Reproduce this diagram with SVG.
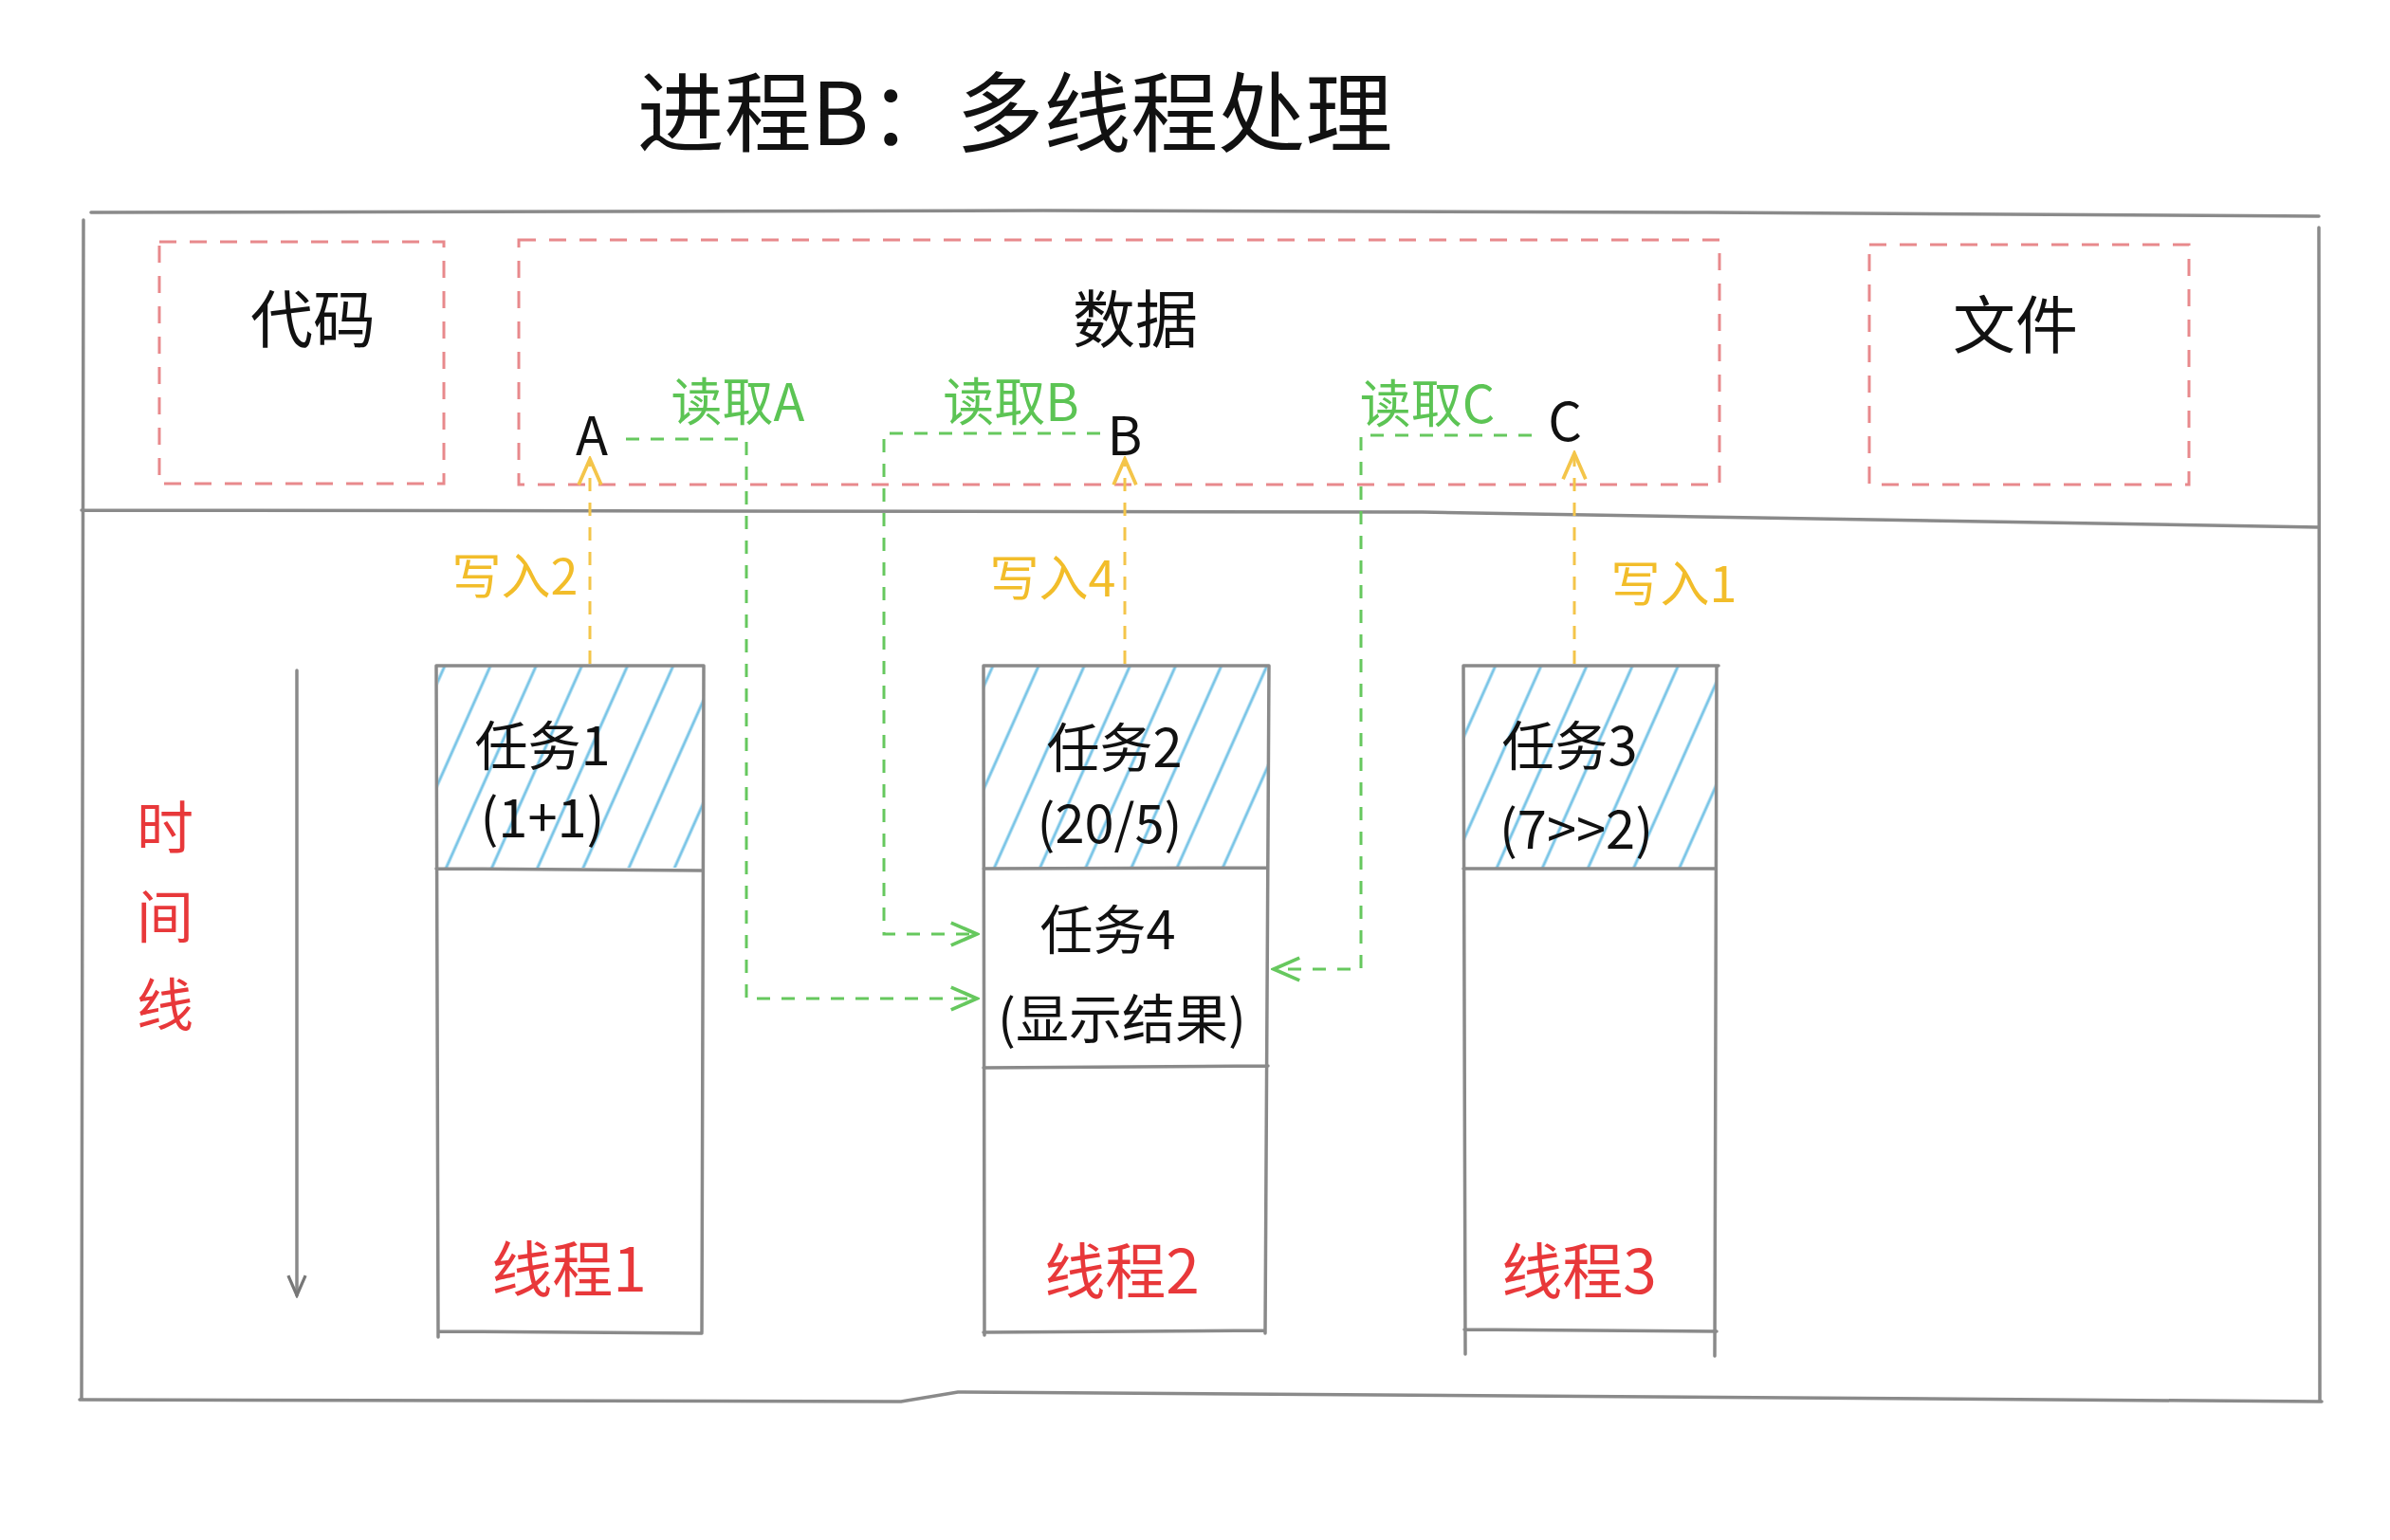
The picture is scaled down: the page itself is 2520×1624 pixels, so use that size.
<svg xmlns="http://www.w3.org/2000/svg" width="2520" height="1624" viewBox="0 0 2520 1624">
<defs>
<style>
.frame{fill:none;stroke:#8a8a8a;stroke-width:3.5;stroke-linecap:round}
.redbox{fill:none;stroke:#e8898c;stroke-width:3;stroke-dasharray:18 14}
.green{fill:none;stroke:#66c85e;stroke-width:3;stroke-dasharray:14 12}
.yellow{fill:none;stroke:#f4c54a;stroke-width:3;stroke-dasharray:14 12}
.t{font-family:"Noto Sans CJK SC","Noto Sans",sans-serif;text-anchor:middle;dominant-baseline:central}
.blk{fill:#111}
.red{fill:#e8383a}
.gt{fill:#5cc454}
.yt{fill:#f2bd2a}
</style>
<pattern id="hatch" patternUnits="userSpaceOnUse" width="44" height="44" patternTransform="rotate(24)">
<line x1="10" y1="0" x2="10" y2="44" stroke="#78c4e6" stroke-width="3"/>
</pattern>
<marker id="ya" viewBox="0 0 20 20" refX="18" refY="10" markerWidth="34" markerHeight="34" markerUnits="userSpaceOnUse" orient="auto">
<path d="M2,3 L18,10 L2,17" fill="none" stroke="#f4c54a" stroke-width="2.2"/>
</marker>
<marker id="ga" viewBox="0 0 20 20" refX="18" refY="10" markerWidth="34" markerHeight="34" markerUnits="userSpaceOnUse" orient="auto">
<path d="M2,3 L18,10 L2,17" fill="none" stroke="#66c85e" stroke-width="2.2"/>
</marker>
<marker id="ka" viewBox="0 0 20 20" refX="18" refY="10" markerWidth="26" markerHeight="26" markerUnits="userSpaceOnUse" orient="auto">
<path d="M2,3 L18,10 L2,17" fill="none" stroke="#777" stroke-width="2.5"/>
</marker>
</defs>
<rect width="2520" height="1624" fill="#fff"/>

<g id="title"><text class="t blk" x="1070" y="112" font-size="92">进程B：多线程处理</text></g>

<g id="process">
<path class="frame" d="M96,224 L1100,222 L1800,224 L2445,228 M88,232 L86,1476 M2445,240 L2446,1478 M84,1476 L950,1478 L1010,1468 L2448,1478 M86,538 L1500,540 L2445,556"/>
</g>

<g id="code"><rect class="redbox" x="168" y="255" width="300" height="255"/><text class="t blk" x="330" y="332" font-size="66">代码</text></g>
<g id="data"><rect class="redbox" x="547" y="253" width="1266" height="258"/><text class="t blk" x="1197" y="332" font-size="66">数据</text>
<text class="t blk" x="624" y="455" font-size="56">A</text>
<text class="t blk" x="1186" y="455" font-size="56">B</text>
<text class="t blk" x="1650" y="440" font-size="56">C</text>
</g>
<g id="file"><rect class="redbox" x="1971" y="258" width="337" height="253"/><text class="t blk" x="2125" y="338" font-size="66">文件</text></g>

<g id="timeline">
<line class="frame" x1="313" y1="707" x2="313" y2="1366" marker-end="url(#ka)"/>
<text class="t red" x="174" y="868" font-size="60">时</text>
<text class="t red" x="174" y="962" font-size="60">间</text>
<text class="t red" x="174" y="1055" font-size="60">线</text>
</g>

<g id="thread1">
<rect x="462" y="703" width="280" height="212" fill="url(#hatch)"/>
<path class="frame" d="M460,702 L742,702 M460,702 L462,1410 M742,702 L740,1405 M460,916 L740,918 M462,1404 L740,1406"/>
<text class="t blk" x="572" y="782" font-size="56">任务1</text>
<text class="t blk" x="572" y="858" font-size="56">(1+1)</text>
<text class="t red" x="600" y="1334" font-size="64">线程1</text>
</g>

<g id="thread2">
<rect x="1038" y="703" width="298" height="212" fill="url(#hatch)"/>
<path class="frame" d="M1037,702 L1338,702 M1037,702 L1038,1408 M1338,702 L1334,1406 M1037,916 L1336,915 M1037,1126 L1337,1124 M1037,1405 L1334,1403"/>
<text class="t blk" x="1175" y="784" font-size="56">任务2</text>
<text class="t blk" x="1170" y="864" font-size="56">(20/5)</text>
<text class="t blk" x="1168" y="976" font-size="56">任务4</text>
<text class="t blk" x="1183" y="1070" font-size="56">(显示结果)</text>
<text class="t red" x="1183" y="1336" font-size="64">线程2</text>
</g>

<g id="thread3">
<rect x="1545" y="703" width="265" height="212" fill="url(#hatch)"/>
<path class="frame" d="M1543,702 L1812,702 M1543,702 L1545,1428 M1810,702 L1808,1430 M1543,916 L1808,916 M1544,1402 L1810,1404"/>
<text class="t blk" x="1655" y="782" font-size="56">任务3</text>
<text class="t blk" x="1662" y="870" font-size="56">(7&gt;&gt;2)</text>
<text class="t red" x="1665" y="1336" font-size="64">线程3</text>
</g>

<g id="connectors">
<line class="yellow" x1="622" y1="700" x2="622" y2="484" marker-end="url(#ya)"/>
<line class="yellow" x1="1186" y1="700" x2="1186" y2="484" marker-end="url(#ya)"/>
<line class="yellow" x1="1660" y1="700" x2="1660" y2="478" marker-end="url(#ya)"/>
<text class="t yt" x="543" y="604" font-size="52">写入2</text>
<text class="t yt" x="1110" y="606" font-size="52">写入4</text>
<text class="t yt" x="1765" y="612" font-size="52">写入1</text>
<path class="green" d="M660,463 H787 V1053 H1030" marker-end="url(#ga)"/>
<path class="green" d="M1160,457 H932 V985 H1030" marker-end="url(#ga)"/>
<path class="green" d="M1615,459 H1435 V1022 H1343" marker-end="url(#ga)"/>
<text class="t gt" x="778" y="420" font-size="54">读取A</text>
<text class="t gt" x="1066" y="420" font-size="54">读取B</text>
<text class="t gt" x="1505" y="422" font-size="54">读取C</text>
</g>
</svg>
